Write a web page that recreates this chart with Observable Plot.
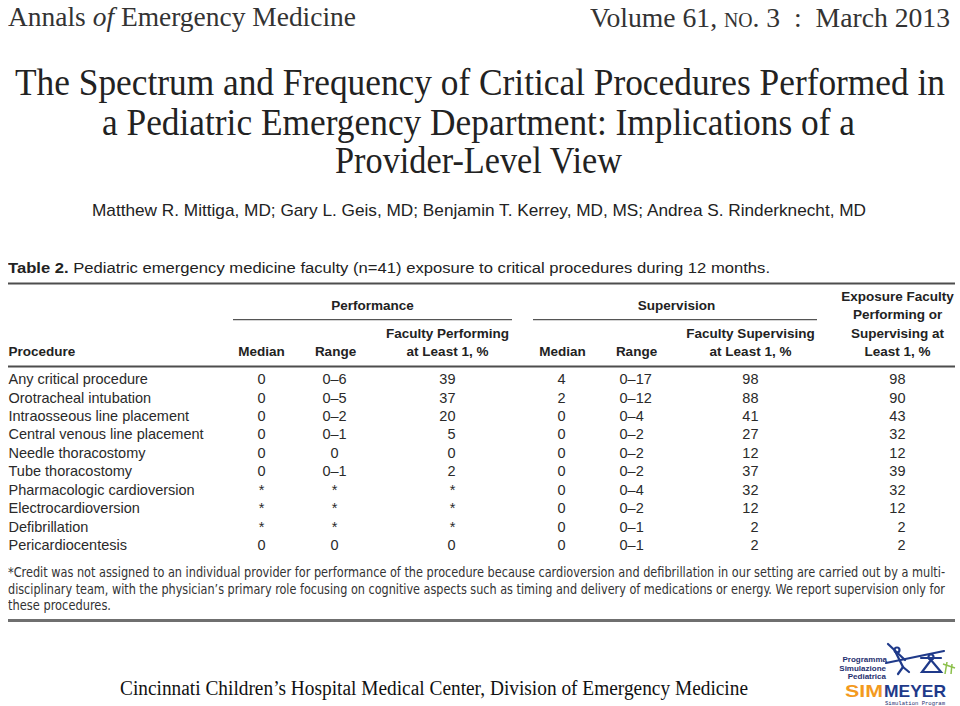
<!DOCTYPE html>
<html><head><meta charset="utf-8">
<script src="https://cdn.jsdelivr.net/npm/d3@7"></script>
<script src="https://cdn.jsdelivr.net/npm/@observablehq/plot@0.6"></script>
<style>
html,body{margin:0;padding:0;background:#fff;}
#page{position:relative;width:960px;height:706px;overflow:hidden;background:#fff;}
.fit{position:absolute;display:inline-block;white-space:nowrap;line-height:1;transform-origin:0 50%;color:#222;}
.serif{font-family:"Liberation Serif","DejaVu Serif",serif;}
.sans{font-family:"Liberation Sans",Arial,sans-serif;}
.narrow{font-family:"Liberation Sans Narrow","DejaVu Sans Condensed","Liberation Sans",sans-serif;color:#333;}
#table{position:absolute;left:0;top:276px;}
.rule{position:absolute;}
#logo{position:absolute;left:0;top:0;width:960px;height:706px;pointer-events:none;}
</style></head><body><div id="page">

<span class="fit serif" data-x="8" data-w="348" data-cy="17" style="font-size:28px;color:#333">Annals <i>of</i> Emergency Medicine</span>
<span class="fit serif" data-x="590" data-w="360" data-cy="18" style="font-size:28px;color:#333">Volume 61, <span style="font-variant:small-caps">no.</span> 3&nbsp;&nbsp;:&nbsp;&nbsp;March 2013</span>

<span class="fit serif" data-x="15" data-w="930" data-cy="82" style="font-size:38px;color:#222">The Spectrum and Frequency of Critical Procedures Performed in</span>
<span class="fit serif" data-x="102" data-w="753" data-cy="122" style="font-size:38px;color:#222">a Pediatric Emergency Department: Implications of a</span>
<span class="fit serif" data-x="335" data-w="287" data-cy="160" style="font-size:38px;color:#222">Provider-Level View</span>

<span class="fit sans" data-x="92" data-w="774" data-cy="210" style="font-size:17px;color:#222">Matthew R. Mittiga, MD; Gary L. Geis, MD; Benjamin T. Kerrey, MD, MS; Andrea S. Rinderknecht, MD</span>

<span class="fit sans" data-x="8" data-w="762" data-cy="268" style="font-size:15.5px;color:#222"><b>Table 2.</b> Pediatric emergency medicine faculty (n=41) exposure to critical procedures during 12 months.</span>

<div id="table"></div>

<span class="fit narrow" data-x="8" data-w="937" data-cy="573" style="font-size:13.5px">*Credit was not assigned to an individual provider for performance of the procedure because cardioversion and defibrillation in our setting are carried out by a multi-</span>
<span class="fit narrow" data-x="8" data-w="937" data-cy="590" style="font-size:13.5px">disciplinary team, with the physician’s primary role focusing on cognitive aspects such as timing and delivery of medications or energy. We report supervision only for</span>
<span class="fit narrow" data-x="8" data-w="103" data-cy="606" style="font-size:13.5px">these procedures.</span>
<div class="rule" style="left:8px;top:619px;width:947px;height:3px;background:#6f6f6f"></div>

<span class="fit serif" data-x="120" data-w="628" data-cy="688" style="font-size:20px;color:#111">Cincinnati Children’s Hospital Medical Center, Division of Emergency Medicine</span>

<svg id="logo" viewBox="0 0 960 706">
  <g stroke="#1f3a8a" stroke-width="2.2" fill="none" stroke-linecap="round">
    <line x1="886" y1="663" x2="944" y2="651"/>
    <circle cx="897" cy="650" r="2.5"/>
    <line x1="896" y1="653" x2="903" y2="667"/>
    <line x1="888" y1="644" x2="905" y2="660"/>
    <line x1="903" y1="667" x2="898" y2="674"/>
    <line x1="903" y1="667" x2="909" y2="672"/>
    <circle cx="931" cy="657" r="2.5"/>
    <path d="M931 660 L922 672 L941 672 Z"/>
    <line x1="921" y1="658" x2="941" y2="658"/>
  </g>
  <g stroke="#8cc04b" stroke-width="1.5" fill="none">
    <line x1="943" y1="664" x2="955" y2="668"/>
    <line x1="947" y1="662" x2="945" y2="674"/>
    <line x1="952" y1="664" x2="951" y2="674"/>
  </g>
  <g font-family="Liberation Sans Narrow, Liberation Sans, sans-serif" font-weight="bold" fill="#1f3070" text-anchor="end">
    <text x="887" y="662" font-size="8">Programma</text>
    <text x="886" y="670.5" font-size="8">Simulazione</text>
    <text x="886" y="679" font-size="8">Pediatrica</text>
  </g>
  <text x="845" y="697" font-family="Liberation Sans, sans-serif" font-weight="bold" font-size="17" fill="#f39a1e" textLength="38" lengthAdjust="spacingAndGlyphs">SIM</text>
  <text x="884" y="697" font-family="Liberation Sans, sans-serif" font-weight="bold" font-size="17" fill="#1f3a8a" textLength="62" lengthAdjust="spacingAndGlyphs">MEYER</text>
  <text x="885" y="704.5" font-family="Liberation Mono, monospace" font-size="5" fill="#1f3070" textLength="60" lengthAdjust="spacingAndGlyphs">Simulation Program</text>
</svg>
</div>
<script>
// ---------- data ----------
const procedures = ["Any critical procedure","Orotracheal intubation","Intraosseous line placement","Central venous line placement","Needle thoracostomy","Tube thoracostomy","Pharmacologic cardioversion","Electrocardioversion","Defibrillation","Pericardiocentesis"];
const perfMedian = ["0","0","0","0","0","0","*","*","*","0"];
const perfRange  = ["0–6","0–5","0–2","0–1","0","0–1","*","*","*","0"];
const perfPct    = ["39","37","20","5","0","2","*","*","*","0"];
const supMedian  = ["4","2","0","0","0","0","0","0","0","0"];
const supRange   = ["0–17","0–12","0–4","0–2","0–2","0–2","0–4","0–2","0–1","0–1"];
const supPct     = ["98","88","41","27","12","37","32","12","2","2"];
const exposurePct= ["98","90","43","32","12","39","32","12","2","2"];

const groupHeaders = ["Performance","Supervision"];
const columnHeaders = {
  procedure: ["Procedure"],
  perfMedian: ["Median"], perfRange: ["Range"], perfPct: ["Faculty Performing","at Least 1, %"],
  supMedian: ["Median"], supRange: ["Range"], supPct: ["Faculty Supervising","at Least 1, %"],
  exposure: ["Exposure Faculty","Performing or","Supervising at","Least 1, %"]
};
const columnValues = {procedure: procedures, perfMedian, perfRange, perfPct, supMedian, supRange, supPct, exposure: exposurePct};

// ---------- layout (table grid, in px along x and in text-line units along y) ----------
const layout = {
  headerLastLine: 3, firstRowLine: 4.5, groupLine: 0.5, groupRuleLine: 1.25,
  topRuleLine: -0.705, headRuleLine: 3.8,
  body: {procedure:[8,"start"], perfMedian:[261,"middle"], perfRange:[334,"middle"], perfPct:[455,"end"],
         supMedian:[561,"middle"], supRange:[619,"start"], supPct:[758,"end"], exposure:[905,"end"]},
  head: {procedure:[8,"start"], perfMedian:[261,"middle"], perfRange:[335,"middle"], perfPct:[447,"middle"],
         supMedian:[562,"middle"], supRange:[636,"middle"], supPct:[750,"middle"], exposure:[897,"middle"]},
  groups: [{center:372, x1:233, x2:512},{center:676, x1:533, x2:817}],
  tableX: [8, 955]
};

const marks = [];
// horizontal rules
marks.push(Plot.ruleY([layout.topRuleLine, layout.headRuleLine], {x1: layout.tableX[0], x2: layout.tableX[1], stroke: "#4d4d4d", strokeWidth: 2}));
marks.push(Plot.ruleY(layout.groups, {y: () => layout.groupRuleLine, x1: "x1", x2: "x2", stroke: "#555", strokeWidth: 1.3}));
// group headers
marks.push(Plot.text(groupHeaders, {x: (d,i) => layout.groups[i].center, y: () => layout.groupLine, text: d => d, fontWeight: "bold", fontSize: 13.5, fill: "#222"}));
// column headers (bottom aligned on the last header line)
for (const [key, lines] of Object.entries(columnHeaders)) {
  const [x, anchor] = layout.head[key];
  marks.push(Plot.text(lines, {x: () => x, y: (d,i) => layout.headerLastLine - (lines.length - 1 - i), text: d => d,
    textAnchor: anchor, fontWeight: "bold", fontSize: 13.5, fill: "#222"}));
}
// body cells
for (const [key, vals] of Object.entries(columnValues)) {
  const [x, anchor] = layout.body[key];
  marks.push(Plot.text(vals, {x: () => x, y: (d,i) => layout.firstRowLine + i, text: d => d,
    textAnchor: anchor, fontSize: 14.5, fill: "#2a2a2a"}));
}

const chart = Plot.plot({
  width: 960, height: 279, marginTop: 20, marginBottom: 10, marginLeft: 0, marginRight: 0,
  x: {domain: [0, 960], axis: null},
  y: {domain: [0, layout.firstRowLine + procedures.length - 1], reverse: true, axis: null},
  style: {fontFamily: "'Liberation Sans', Arial, sans-serif", background: "transparent", overflow: "visible"},
  marks
});
document.getElementById("table").appendChild(chart);

// position & fit HTML text blocks
document.querySelectorAll(".fit").forEach(el => {
  const r = el.getBoundingClientRect();
  el.style.left = el.dataset.x + "px";
  el.style.top = (+el.dataset.cy - r.height / 2) + "px";
  if (el.dataset.w) el.style.transform = `scaleX(${+el.dataset.w / r.width})`;
});
</script>
</body></html>
